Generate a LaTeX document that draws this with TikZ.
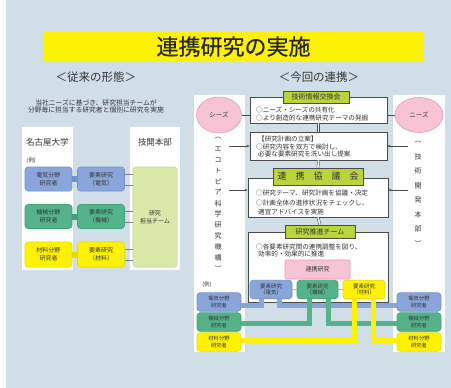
\documentclass[tikz,border=0pt]{standalone}
\usepackage{fontspec}
\setmainfont{Noto Sans CJK JP}
\usetikzlibrary{arrows.meta,shapes.geometric}
\definecolor{bg}{HTML}{D0DEE8}
\definecolor{blueF}{HTML}{8AA5DA}
\definecolor{blueD}{HTML}{7390CC}
\definecolor{greenF}{HTML}{55B38C}
\definecolor{greenD}{HTML}{409E78}
\definecolor{yelF}{HTML}{FFF200}
\definecolor{yelD}{HTML}{E8D800}
\definecolor{lgF}{HTML}{DAE8A8}
\definecolor{lgD}{HTML}{C8DA92}
\definecolor{pinkF}{HTML}{F7C3D5}
\definecolor{pinkD}{HTML}{E79AB5}
\definecolor{hdrF}{HTML}{BAD53C}
\definecolor{txt}{HTML}{333333}
\definecolor{edge}{HTML}{4A4A4A}
\newcommand\fsz[2]{\fontsize{#1}{#2}\selectfont}
\begin{document}
\begin{tikzpicture}[x=1pt,y=-1pt,
  panel/.style={fill=white, draw=none, inner sep=0pt},
  rbox/.style={rounded corners=3pt, inner sep=0pt, align=center, text=txt, font=\fsz{6}{7.8}, line width=0.6pt},
  bluebox/.style={rbox, fill=blueF, draw=blueD},
  greenbox/.style={rbox, fill=greenF, draw=greenD},
  yelbox/.style={rbox, fill=yelF, draw=yelD},
  smallbox/.style={font=\fsz{5.3}{6.6}, minimum width=44pt, minimum height=18.5pt},
  wbox/.style={draw=edge, fill=white, line width=0.8pt, inner sep=0pt},
  hdr/.style={draw=edge, fill=hdrF, line width=0.8pt, inner sep=0pt, text=txt},
  btxt/.style={anchor=west, inner sep=0pt, text=txt, font=\fsz{6.6}{8}},
  vtxt/.style={inner sep=0pt, text=txt, font=\fsz{7}{8}},
  seed/.style={ellipse, fill=pinkF, draw=pinkD, line width=0.6pt, inner sep=0pt, text=txt, font=\fsz{6.5}{8}},
  thin gray/.style={draw=edge, line width=0.5pt},
  dbl/.style={draw=edge, double=white, double distance=1.6pt, line width=0.5pt},
  band/.style={line width=5pt, line join=miter},
]
\useasboundingbox (0,0) rectangle (451,388);
\fill[white] (0,0) rectangle (451,388);
\fill[bg] (6,0) rectangle (451,388);

% title
\node[fill=yelF, minimum width=381pt, minimum height=31pt, inner sep=0pt, text=black!85, font=\fsz{22}{24}\addfontfeatures{FakeBold=0.6}] (title) at (233.5,46.5) {連携研究の実施};
\node[inner sep=0pt, text=txt, font=\fsz{11.5}{13}] (hL) at (96,77) {＜従来の形態＞};
\node[inner sep=0pt, text=txt, font=\fsz{11.5}{13}] (hR) at (319,77) {＜今回の連携＞};

% ---------------- left: conventional ----------------
\node[inner sep=0pt, text=txt, font=\fsz{6.8}{7.5}, align=center] (ldesc) at (96,106.5) {当社ニーズに基づき、研究担当チームが\\分野毎に担当する研究者と個別に研究を実施};

\node[panel, minimum width=51pt, minimum height=143pt] (pNU) at (47.5,198.5) {};
\node[panel, minimum width=50pt, minimum height=143pt] (pGK) at (155,198.5) {};
\node[inner sep=0pt, text=txt, font=\fsz{8.5}{10}] (tNU) at (47.5,142) {名古屋大学};
\node[inner sep=0pt, text=txt, font=\fsz{8.5}{10}] (tGK) at (155,142) {技開本部};
\node[inner sep=0pt, text=txt, font=\fsz{5.5}{6}] (ex1) at (31,161) {(例)};

\node[bluebox, minimum width=47pt, minimum height=24pt] (lb1) at (48.5,179) {電気分野\\研究者};
\node[bluebox, minimum width=47pt, minimum height=24pt] (lm1) at (101,179) {要素研究\\（電気）};
\node[greenbox, minimum width=47pt, minimum height=24pt] (lb2) at (48.5,216.5) {機械分野\\研究者};
\node[greenbox, minimum width=47pt, minimum height=24pt] (lm2) at (101,216.5) {要素研究\\（機械）};
\node[yelbox, minimum width=47pt, minimum height=25pt] (lb3) at (48.5,254.5) {材料分野\\研究者};
\node[yelbox, minimum width=47pt, minimum height=25pt] (lm3) at (101,254.5) {要素研究\\（材料）};
\node[rbox, fill=lgF, draw=lgD, minimum width=44pt, minimum height=100pt] (team) at (155,217) {研究\\担当チーム};

\draw[blueD, line width=6pt] (lb1.east) -- (lm1.west);
\draw[greenD, line width=6pt] (lb2.east) -- (lm2.west);
\draw[yelD, line width=6pt] (lb3.east) -- (lm3.west);
\foreach \m in {lm1,lm2,lm3}{
  \draw[thin gray, draw=gray] ([yshift=5pt]\m.east) -- ([yshift=5pt]\m.east -| team.west);
  \draw[thin gray, draw=gray] ([yshift=-6pt]\m.east) -- ([yshift=-6pt]\m.east -| team.west);
}

% ---------------- right: this collaboration ----------------
\node[panel, minimum width=51pt, minimum height=257pt] (pEco) at (219.5,223.5) {};
\node[panel, minimum width=52pt, minimum height=257pt] (pTech) at (419,223.5) {};

\node[wbox, minimum width=137pt, minimum height=26pt] (box1) at (318.5,110) {};
\node[wbox, minimum width=137pt, minimum height=28pt] (box2) at (318.5,146) {};
\node[wbox, minimum width=140pt, minimum height=39pt] (box3) at (318,197.5) {};
\node[wbox, minimum width=140pt, minimum height=70pt] (box4) at (318,267) {};

\node[hdr, minimum width=66pt, minimum height=12pt, font=\fsz{7}{8}] (h1) at (316,97) {技術情報交換会};
\node[hdr, minimum width=90pt, minimum height=17pt, font=\fsz{9}{10}] (h3) at (318,176.5) {連　携　協　議　会};
\node[hdr, minimum width=70pt, minimum height=13pt, font=\fsz{7}{8}] (h4) at (320,231.5) {研究推進チーム};

\node[btxt] (t11) at (256,110) {○ニーズ・シーズの共有化};
\node[btxt] (t12) at (256,118) {○より創造的な連携研究テーマの発掘};
\node[btxt] (t21) at (258,138.5) {【研究計画の立案】};
\node[btxt] (t22) at (256,146.5) {○研究内容を双方で検討し、};
\node[btxt] (t23) at (258,154) {必要な要素研究を洗い出し提案};
\node[btxt] (t31) at (256,193) {○研究テーマ、研究計画を協議・決定};
\node[btxt] (t32) at (256,202.5) {○計画全体の進捗状況をチェックし、};
\node[btxt] (t33) at (258,211.5) {適宜アドバイスを実施};
\node[btxt] (t41) at (256,246.5) {○各要素研究間の連携調整を図り、};
\node[btxt] (t42) at (258,254) {効率的・効果的に推進};

\draw[dbl] (box1.south) -- (box2.north);
\draw[dbl] (box2.south) -- (h3.north);
\draw[dbl] (box3.south) -- (h4.north);

\node[seed, minimum width=45pt, minimum height=36pt] (seeds) at (219,115) {シーズ};
\node[seed, minimum width=48pt, minimum height=35pt] (needs) at (419,115) {ニーズ};
\draw[thin gray] (seeds.east) -- (seeds.east -| box1.west);
\draw[thin gray] (needs.west) -- (needs.west -| box1.east);

\coordinate (aL2) at (229,146);
\coordinate (aL3) at (229,190);
\coordinate (aR2) at (408,146);
\coordinate (aR3) at (408,190);
\draw[thin gray, -{Stealth[length=3pt,width=2.5pt]}] (aL2) -- (aL2 -| box2.west);
\draw[thin gray, -{Stealth[length=3pt,width=2.5pt]}] (aL3) -- (aL3 -| box3.west);
\draw[thin gray, -{Stealth[length=3pt,width=2.5pt]}] (aR2) -- (aR2 -| box2.east);
\draw[thin gray, -{Stealth[length=3pt,width=2.5pt]}] (aR3) -- (aR3 -| box3.east);

\foreach \c [count=\i] in {︵,エ,コ,ト,ピ,ア,科,学,研,究,機,構,︶}{
  \node[vtxt] (ve\i) at (218,{138+(\i-1)*10.9}) {\c};
}
\foreach \c [count=\i] in {︵,技,術,開,発,本,部,︶}{
  \node[vtxt] (vt\i) at (418,{142+(\i-1)*14.5}) {\c};
}

% research promotion contents
\node[rbox, fill=pinkF, draw=pinkD, rounded corners=1pt, minimum width=65pt, minimum height=19pt] (renkei) at (317.5,269.5) {連携研究};
\node[bluebox, smallbox, minimum width=42pt, font=\fsz{5.5}{6.8}] (eb1) at (271,289.5) {要素研究\\（電気）};
\node[greenbox, smallbox, minimum width=41pt, font=\fsz{5.5}{6.8}] (eb2) at (317.5,289.5) {要素研究\\（機械）};
\node[yelbox, smallbox, minimum width=42pt, font=\fsz{5.5}{6.8}] (eb3) at (364,289.5) {要素研究\\（材料）};
\draw[pinkD, line width=1.5pt] (eb1.east) -- (eb2.west);
\draw[pinkD, line width=1.5pt] (eb2.east) -- (eb3.west);

\node[inner sep=0pt, text=txt, font=\fsz{5.5}{6}] (ex2) at (207,285) {(例)};
\node[bluebox, smallbox] (bl1) at (219,302) {電気分野\\研究者};
\node[greenbox, smallbox] (gl1) at (219,322) {機械分野\\研究者};
\node[yelbox, smallbox] (yl1) at (219,342) {材料分野\\研究者};
\node[bluebox, smallbox] (br1) at (419,302) {電気分野\\研究者};
\node[greenbox, smallbox] (gr1) at (419,322) {機械分野\\研究者};
\node[yelbox, smallbox] (yr1) at (419,342) {材料分野\\研究者};

\coordinate (bY) at (0,305);
\coordinate (gY) at (0,323);
\coordinate (yY) at (0,340);
\coordinate (bx1) at (261,0);
\coordinate (bx2) at (279,0);
\coordinate (gx1) at (309,0);
\coordinate (gx2) at (328,0);
\coordinate (yx1) at (354,0);
\coordinate (yx2) at (373,0);

\draw[band, blueF] (bl1.east |- bY) -| (eb1.south -| bx1);
\draw[band, blueF] (eb1.south -| bx2) |- (br1.west |- bY);
\draw[band, greenF] (gl1.east |- gY) -| (eb2.south -| gx1);
\draw[band, greenF] (eb2.south -| gx2) |- (gr1.west |- gY);
\draw[band, yelF] (yl1.east |- yY) -| (eb3.south -| yx1);
\draw[band, yelF] (eb3.south -| yx2) |- (yr1.west |- yY);
\end{tikzpicture}
\end{document}
